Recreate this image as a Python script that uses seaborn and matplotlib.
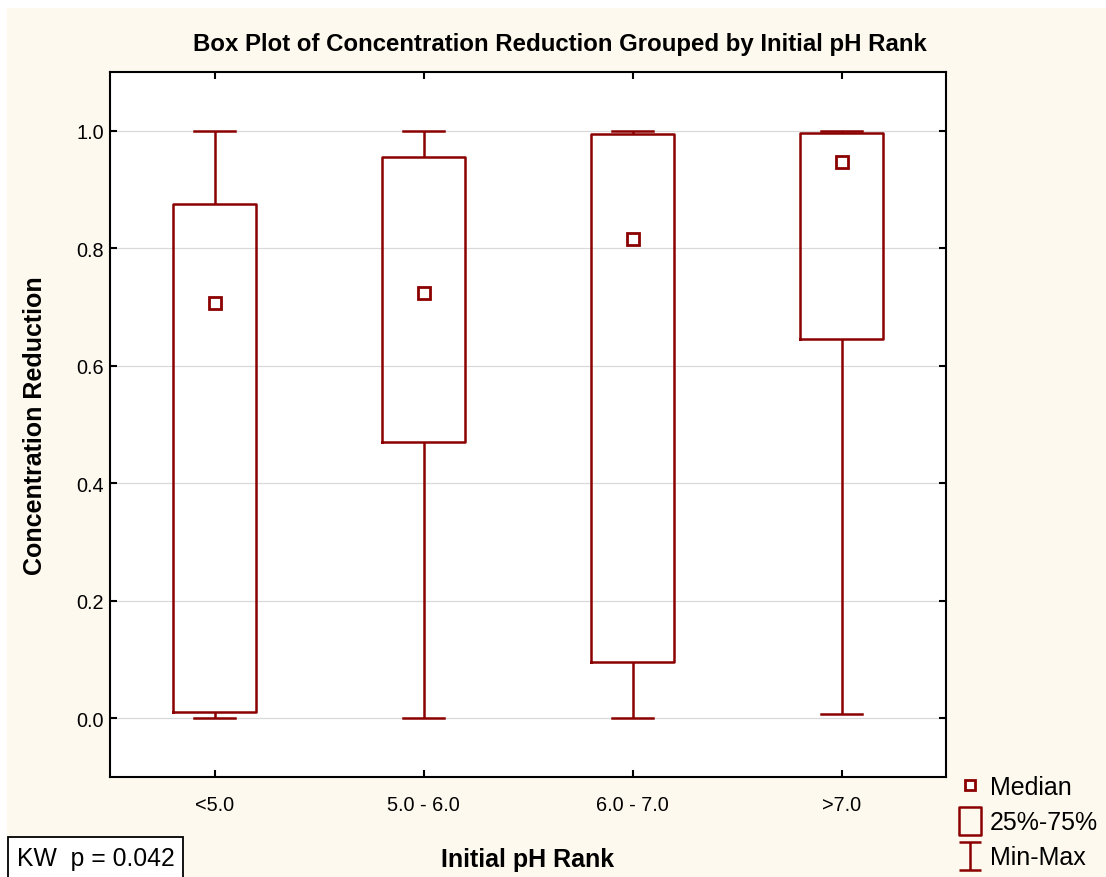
import numpy as np
import pandas as pd
import matplotlib
matplotlib.use('Agg')
import matplotlib.pyplot as plt
from matplotlib.lines import Line2D
from matplotlib.patches import Rectangle
from matplotlib.path import Path
import seaborn as sns

# five-number summaries
groups = ['<5.0', '5.0 - 6.0', '6.0 - 7.0', '>7.0']
mins = [0.000, 0.000, 0.000, 0.007]
q1s = [0.010, 0.471, 0.095, 0.646]
medians = [0.707, 0.724, 0.816, 0.947]
q3s = [0.876, 0.956, 0.995, 0.997]
maxs = [1.000, 1.000, 1.000, 1.000]

red = '#8B0000'
cream = '#FEF9EE'

# 5 points per group -> quartiles come out exactly at q1/median/q3
rows = []
for g, a, b, c, d, e in zip(groups, mins, q1s, medians, q3s, maxs):
    for v in (a, b, c, d, e):
        rows.append({'pH': g, 'value': v})
df = pd.DataFrame(rows)
med_df = pd.DataFrame({'pH': groups, 'value': medians})

plt.rcParams['font.family'] = ['Liberation Sans', 'DejaVu Sans']

fig = plt.figure(figsize=(11.06, 8.78), dpi=100)
fig.patch.set_facecolor('white')
fig.patches.append(Rectangle((7 / 1106, 0), 1, 1 - 9 / 878, transform=fig.transFigure,
                             facecolor=cream, edgecolor='none', zorder=-10))

ax = fig.add_axes([110 / 1106, 1 - 778 / 878, 836 / 1106, 705 / 878])
ax.set_facecolor('white')

sns.boxplot(data=df, x='pH', y='value', whis=(0, 100), width=0.4, fill=False,
            color=red, linewidth=1.8, medianprops=dict(visible=False), ax=ax)
sns.pointplot(data=med_df, x='pH', y='value', linestyle='none', marker='s',
              markersize=8, markeredgewidth=2, color=red, markerfacecolor='white',
              errorbar=None, ax=ax, zorder=5)

ax.set_xlim(-0.5, 3.5)
ax.set_ylim(-0.1, 1.1)
ax.set_yticks([0.0, 0.2, 0.4, 0.6, 0.8, 1.0])
ax.set_yticklabels(['0.0', '0.2', '0.4', '0.6', '0.8', '1.0'])
ax.yaxis.grid(True, color='#d9d9d9', linewidth=0.9)
ax.xaxis.grid(False)
ax.set_axisbelow(True)
for s in ax.spines.values():
    s.set_linewidth(1.5)
    s.set_color('black')
ax.tick_params(direction='in', length=5, width=1.5, labelsize=14.3, top=True, right=True)
ax.tick_params(axis='y', pad=4.5)
ax.tick_params(axis='x', pad=13)

ax.set_xlabel('Initial pH Rank', fontsize=18, fontweight='bold', labelpad=24)
ax.set_ylabel('Concentration Reduction', fontsize=18, fontweight='bold', labelpad=21)
fig.text(560 / 1106, 1 - 44 / 878,
         'Box Plot of Concentration Reduction Grouped by Initial pH Rank',
         fontsize=17.3, fontweight='bold', ha='center', va='center')

# legend with custom markers
ibeam = Path([(-0.41, -0.5), (0.41, -0.5), (0, -0.5), (0, 0.5), (-0.41, 0.5), (0.41, 0.5)],
             [Path.MOVETO, Path.LINETO, Path.MOVETO, Path.LINETO, Path.MOVETO, Path.LINETO])
tallbox = Path([(-0.42, -0.5), (0.42, -0.5), (0.42, 0.5), (-0.42, 0.5), (-0.42, -0.5)],
               [Path.MOVETO, Path.LINETO, Path.LINETO, Path.LINETO, Path.CLOSEPOLY])
handles = [
    Line2D([], [], linestyle='none', marker='s', markersize=6.5, markeredgewidth=2,
           markeredgecolor=red, markerfacecolor='white'),
    Line2D([], [], linestyle='none', marker=tallbox, markersize=19.5, markeredgewidth=1.8,
           markeredgecolor=red, markerfacecolor='none'),
    Line2D([], [], linestyle='none', marker=ibeam, markersize=19.5, markeredgewidth=1.8,
           markeredgecolor=red, markerfacecolor='none'),
]
fig.legend(handles, ['Median', '25%-75%', 'Min-Max'], loc='upper left',
           bbox_to_anchor=(945 / 1106, 1 - 766 / 878), frameon=False, fontsize=18,
           handlelength=1.2, handletextpad=0.2, labelspacing=0.45, borderaxespad=0)

fig.text(17 / 1106, 1 - 859 / 878, 'KW  p = 0.042', fontsize=17.8, va='center', ha='left',
         bbox=dict(boxstyle='square,pad=0.35', facecolor='white', edgecolor='black',
                   linewidth=1.3))

fig.savefig('out.png', dpi=100, facecolor=fig.get_facecolor())
